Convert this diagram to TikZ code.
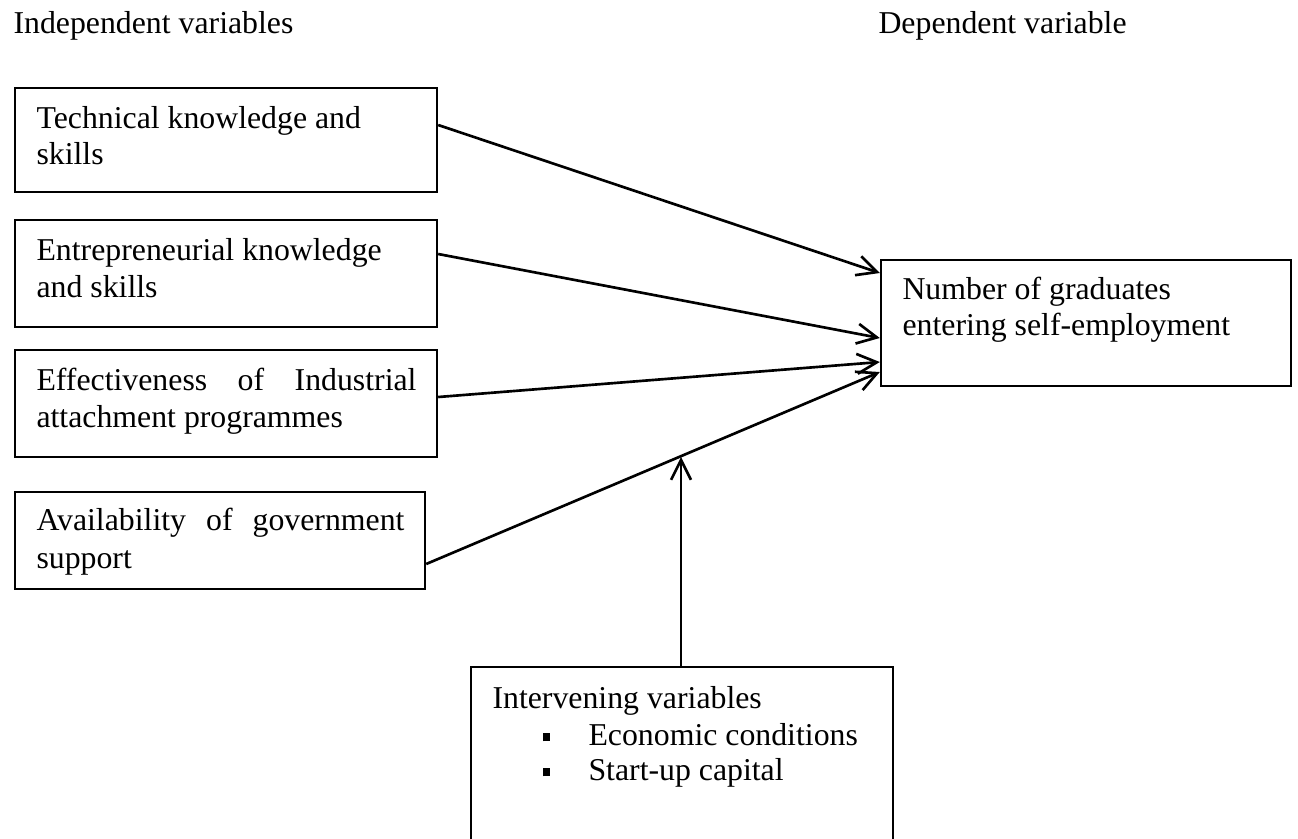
\documentclass[tikz,border=0pt]{standalone}
\usepackage{fontspec}
\setmainfont{Liberation Serif}
\usetikzlibrary{arrows.meta,fit}
\newdimen\px \px=0.3774pt
\begin{document}
\begin{tikzpicture}[x=0.3774pt,y=-0.3774pt,
  font=\fontsize{12}{13.6}\selectfont,
  box/.style={draw, line width=0.9pt, inner sep=0pt},
  lbl/.style={anchor=base west, inner sep=0pt},
  arr/.style={line width=1pt, -{Straight Barb[length=7.5pt,width=7.5pt,line width=1pt]}}]
\useasboundingbox (0,0) rectangle (1298,838);
% headers
\node[lbl] (hind) at (13,33) {Independent variables};
\node[lbl] (hdep) at (878,33) {Dependent variable};
% boxes
\node[box, fit={(15,88) (437,192)}] (b1) {};
\node[box, fit={(15,220) (437,327)}] (b2) {};
\node[box, fit={(15,350) (437,457)}] (b3) {};
\node[box, fit={(15,492) (425,589)}] (b4) {};
\node[box, fit={(881,260) (1291,386)}] (rb) {};
\node[box, fit={(471,667) (893,860)}] (ib) {};
% texts
\node[lbl] (t1a) at (36,128) {Technical knowledge and};
\node[lbl] (t1b) at (36,164) {skills};
\node[lbl] (t2a) at (36,260) {Entrepreneurial knowledge};
\node[lbl] (t2b) at (36,297) {and skills};
\node[lbl] (t3a) at (36,390) {\makebox[380\px][s]{Effectiveness of Industrial}};
\node[lbl] (t3b) at (36,427) {attachment programmes};
\node[lbl] (t4a) at (36,530) {\makebox[368\px][s]{Availability of government}};
\node[lbl] (t4b) at (36,568) {support};
\node[lbl] (r1) at (902,299) {Number of graduates};
\node[lbl] (r2) at (902,335) {entering self-employment};
\node[lbl] (i0) at (492,708) {Intervening variables};
\node[lbl] (i1) at (542,745) {\makebox[46\px][l]{\rule[1.4pt]{3pt}{3pt}}Economic conditions};
\node[lbl] (i2) at (542,780) {\makebox[46\px][l]{\rule[1.4pt]{3pt}{3pt}}Start-up capital};
% connectors
\coordinate (j) at (681,457);
\draw[arr] (b1.east |- 0,125) -- (rb.west |- 0,273);
\draw[arr] (b2.east |- 0,254) -- (rb.west |- 0,338);
\draw[arr] (b3.east |- 0,397) -- (rb.west |- 0,362);
\draw[arr] (b4.east |- 0,564) -- (rb.west |- 0,372);
\draw[arr] (ib.north -| j) -- (j);
\end{tikzpicture}
\end{document}
